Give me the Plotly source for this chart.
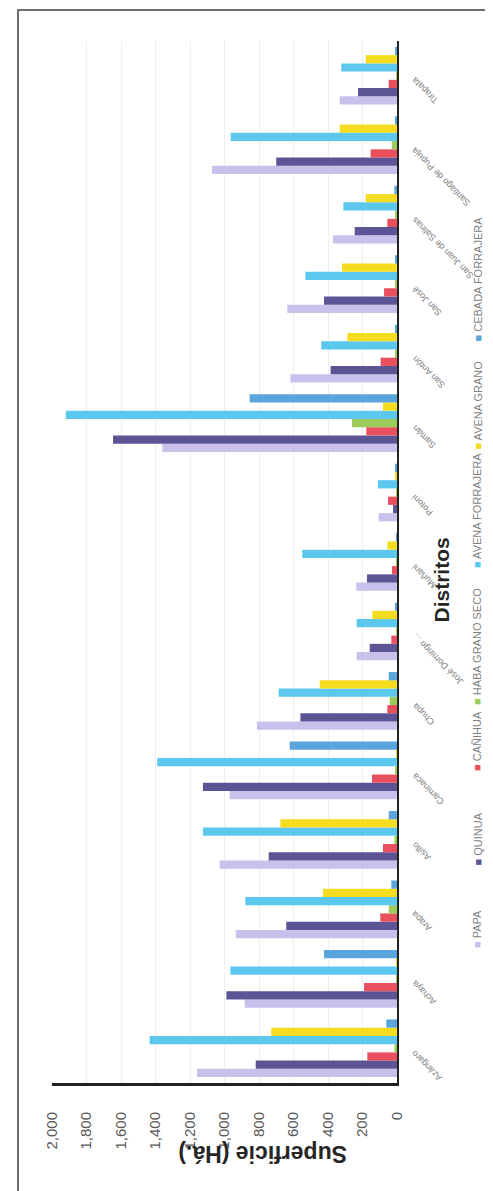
import plotly.graph_objects as go

# ---------------- data ----------------
distritos = ["Azángaro", "Achaya", "Arapa", "Asillo", "Caminaca", "Chupa",
             "José Domingo ...", "Muñani", "Potoni", "Samán", "San Antón",
             "San José", "San Juan de Salinas", "Santiago de Pupuja", "Tirapata"]

papa     = [1159, 883, 935, 1028, 970, 812, 234, 236, 106, 1360, 618, 636, 371, 1072, 332]
quinua   = [819, 989, 642, 744, 1125, 560, 158, 174, 23, 1646, 385, 423, 245, 700, 226]
canihua  = [172, 191, 97, 81, 145, 56, 33, 29, 52, 178, 95, 75, 56, 153, 48]
haba     = [15, 5, 48, 15, 8, 42, 5, 5, 3, 261, 8, 8, 8, 30, 5]
avena_f  = [1434, 966, 879, 1125, 1390, 686, 234, 549, 110, 1920, 439, 531, 311, 964, 323]
avena_g  = [729, 5, 429, 676, 5, 448, 143, 56, 10, 81, 288, 319, 181, 332, 181]
cebada   = [62, 423, 33, 48, 622, 48, 10, 5, 10, 854, 10, 10, 15, 10, 10]

series_names = ["PAPA", "QUINUA", "CAÑIHUA", "HABA GRANO SECO",
                "AVENA FORRAJERA", "AVENA GRANO", "CEBADA FORRAJERA"]
series_vals = [papa, quinua, canihua, haba, avena_f, avena_g, cebada]
series_colors = ["#C9C1EC", "#5B5595", "#E8505E", "#9CCB5B",
                 "#5CC8EE", "#F5DC1E", "#5AA5DC"]

value_ticks = [0, 200, 400, 600, 800, 1000, 1200, 1400, 1600, 1800, 2000]

# ---------------- layout helpers ----------------
W, H = 493, 1191
L, R, T, B = 44, 389, 33, 1075   # plot area in pixels


def px_x(x):
    return (x - L) / (R - L)


def px_y(y):
    return 1 - (y - T) / (B - T)


fig = go.Figure()
for name, vals, col in zip(series_names, series_vals, series_colors):
    fig.add_trace(go.Bar(
        y=distritos, x=vals, name=name, orientation="h",
        marker=dict(color=col, line=dict(width=0)),
        showlegend=False,
    ))

# category labels (rotated, upside down, ending at the axis)
annotations = []
for d in distritos:
    annotations.append(dict(
        x=1, xref="paper", y=d, yref="y", text=d, showarrow=False,
        textangle=-135, xanchor="left", yanchor="top", xshift=10, yshift=3,
        font=dict(family="Liberation Sans, Arial", size=9, color="#808080"),
    ))

# axis titles
annotations.append(dict(
    x=px_x(446), y=px_y(572), xref="paper", yref="paper", text="<b>Distritos</b>",
    showarrow=False, textangle=-90,
    font=dict(family="Liberation Sans, Arial", size=21, color="#262626"),
))
annotations.append(dict(
    x=px_x(255), y=px_y(1161), xref="paper", yref="paper",
    text="<b>Superficie (Há.)</b>", showarrow=False, textangle=180,
    font=dict(family="Liberation Sans, Arial", size=23, color="#262626"),
))

# legend (rotated) built from annotations
legend_y = [942, 860, 765, 639, 503, 351, 207]
for name, col, yy in zip(series_names, series_colors, legend_y):
    annotations.append(dict(
        x=px_x(477), y=px_y(yy), xref="paper", yref="paper",
        text=f'<span style="color:{col}">■</span> {name}',
        showarrow=False, textangle=-90,
        font=dict(family="Liberation Sans, Arial", size=11, color="#7F7F7F"),
    ))

shapes = [
    # outer chart border
    dict(type="rect", xref="paper", yref="paper",
         x0=px_x(10), x1=px_x(490), y0=px_y(1189), y1=px_y(2),
         line=dict(color="#6E6E6E", width=2), fillcolor="rgba(0,0,0,0)", layer="below"),
]

fig.update_layout(
    width=W, height=H,
    margin=dict(l=L, r=W - R, t=T, b=H - B, autoexpand=False),
    paper_bgcolor="white", plot_bgcolor="white",
    barmode="group", bargap=0.17, bargroupgap=0.0,
    xaxis=dict(
        range=[2000, 0], tickvals=value_ticks, tickformat=",",
        tickangle=-90, showgrid=True, gridcolor="#EEEEEE", gridwidth=1,
        zeroline=False, showline=True, linecolor="#222222", linewidth=3,
        ticks="outside", ticklen=20, tickcolor="rgba(0,0,0,0)",
        tickfont=dict(family="Liberation Sans, Arial", size=15, color="#595959"),
    ),
    yaxis=dict(
        side="right", showticklabels=False, showgrid=False, zeroline=False,
        showline=True, linecolor="#222222", linewidth=2,
        categoryorder="array", categoryarray=distritos,
        range=[-0.5, len(distritos) - 0.5],
    ),
    annotations=annotations,
    shapes=shapes,
)

fig.write_html("out.html")
